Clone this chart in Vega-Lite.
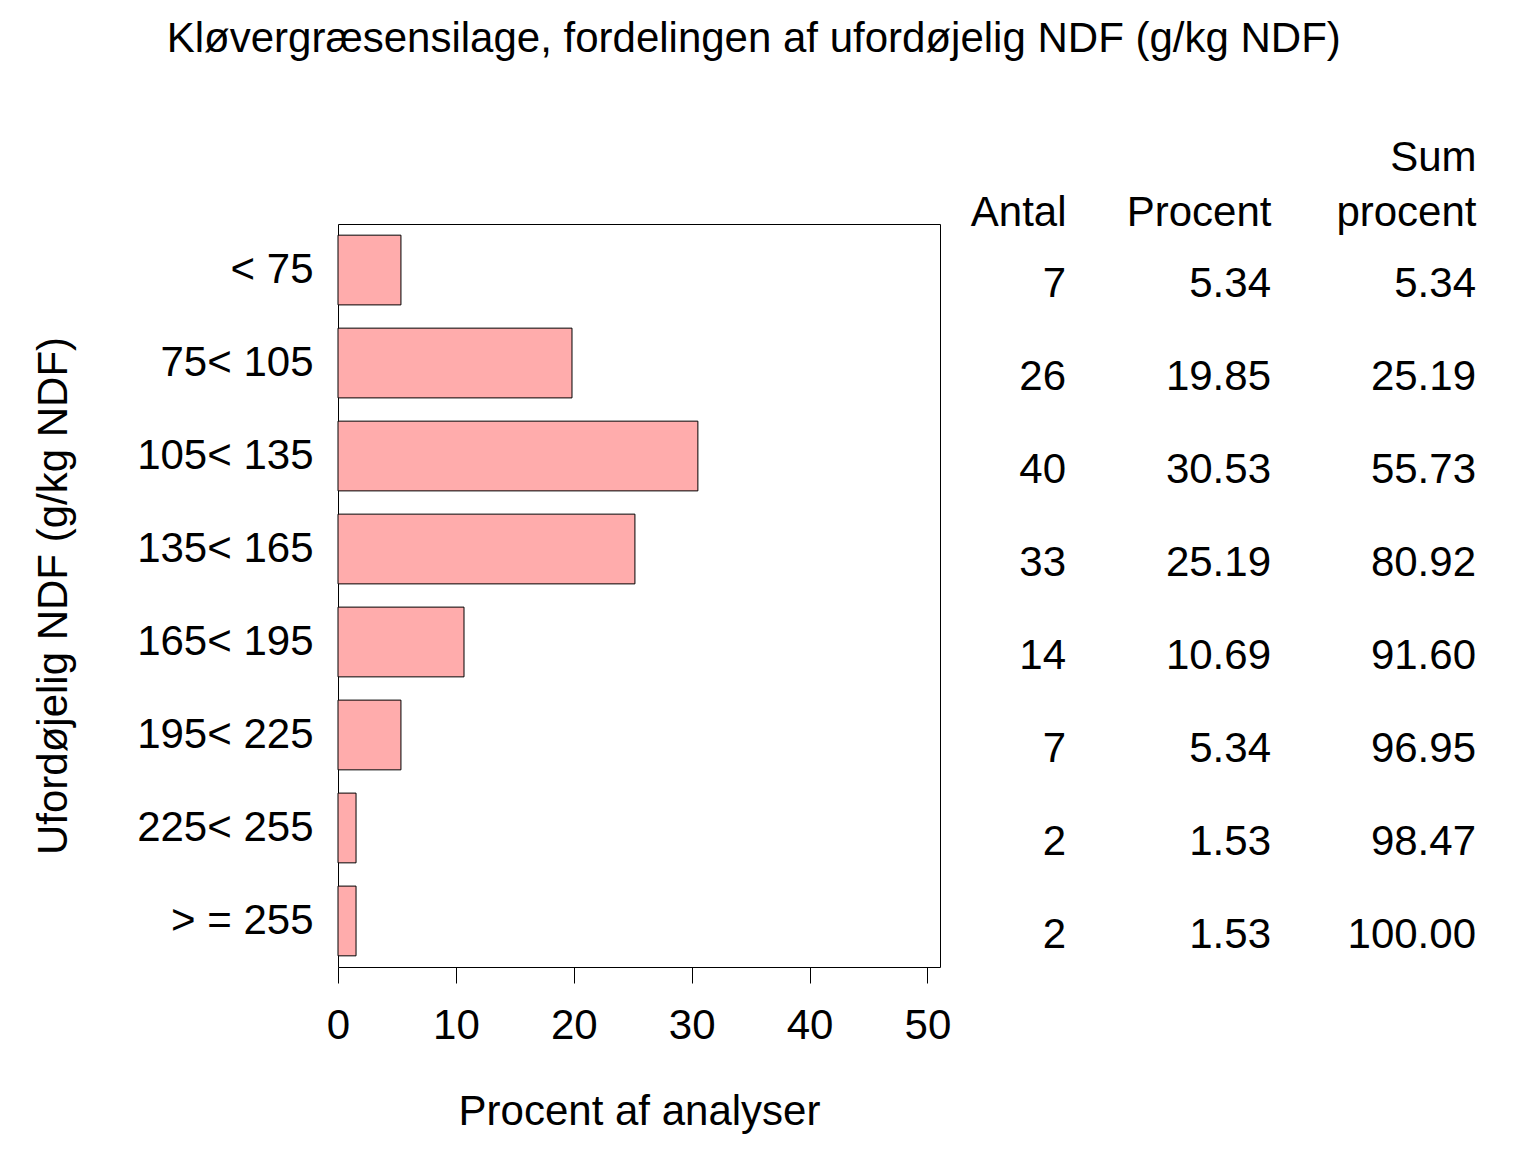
{
  "$schema": "https://vega.github.io/schema/vega-lite/v6.json",
  "padding": {"left": 31, "top": 18, "right": 5, "bottom": 5},
  "background": "white",
  "title": {
    "text": "Kløvergræsensilage, fordelingen af ufordøjelig NDF (g/kg NDF)",
    "frame": "bounds",
    "anchor": "middle",
    "offset": 75
  },
  "config": {
    "font": "Liberation Sans",
    "title": {"fontSize": 42, "fontWeight": "normal", "color": "black"},
    "axis": {
      "labelFontSize": 42,
      "titleFontSize": 42,
      "titleFontWeight": "normal",
      "labelColor": "black",
      "titleColor": "black",
      "tickColor": "black",
      "domain": false,
      "grid": false
    },
    "view": {"stroke": "black", "strokeWidth": 1}
  },
  "data": {
    "values": [
      {"cat": "< 75", "pct": 5.34, "antal": "7", "procent": "5.34", "sumprocent": "5.34"},
      {"cat": "75< 105", "pct": 19.85, "antal": "26", "procent": "19.85", "sumprocent": "25.19"},
      {"cat": "105< 135", "pct": 30.53, "antal": "40", "procent": "30.53", "sumprocent": "55.73"},
      {"cat": "135< 165", "pct": 25.19, "antal": "33", "procent": "25.19", "sumprocent": "80.92"},
      {"cat": "165< 195", "pct": 10.69, "antal": "14", "procent": "10.69", "sumprocent": "91.60"},
      {"cat": "195< 225", "pct": 5.34, "antal": "7", "procent": "5.34", "sumprocent": "96.95"},
      {"cat": "225< 255", "pct": 1.53, "antal": "2", "procent": "1.53", "sumprocent": "98.47"},
      {"cat": "> = 255", "pct": 1.53, "antal": "2", "procent": "1.53", "sumprocent": "100.00"}
    ]
  },
  "bounds": "flush",
  "spacing": 126,
  "resolve": {"scale": {"y": "shared"}},
  "hconcat": [
    {
      "width": 602,
      "height": 743,
      "mark": {"type": "bar", "fill": "#ffacac", "stroke": "black", "strokeWidth": 1},
      "encoding": {
        "y": {
          "field": "cat",
          "type": "nominal",
          "sort": ["< 75", "75< 105", "105< 135", "135< 165", "165< 195", "195< 225", "225< 255", "> = 255"],
          "scale": {"paddingInner": 0.25, "paddingOuter": 0.12},
          "title": "Ufordøjelig NDF (g/kg NDF)",
          "axis": {"ticks": false, "labelPadding": 25, "titlePadding": 63}
        },
        "x": {
          "field": "pct",
          "type": "quantitative",
          "scale": {"domain": [0, 51.07], "nice": false, "zero": true},
          "title": "Procent af analyser",
          "axis": {"values": [0, 10, 20, 30, 40, 50], "tickSize": 16, "labelPadding": 22, "titlePadding": 45, "labelFlush": false}
        }
      }
    },
    {
      "width": 410,
      "height": 743,
      "view": {"stroke": null},
      "transform": [{"fold": ["antal", "procent", "sumprocent"], "as": ["col", "val"]}],
      "mark": {"type": "text", "align": "right", "baseline": "middle", "fontSize": 42, "dy": 14, "color": "black"},
      "encoding": {
        "y": {
          "field": "cat",
          "type": "nominal",
          "sort": ["< 75", "75< 105", "105< 135", "135< 165", "165< 195", "195< 225", "225< 255", "> = 255"],
          "axis": null
        },
        "x": {
          "field": "col",
          "type": "nominal",
          "sort": ["antal", "procent", "sumprocent"],
          "scale": {"type": "point", "padding": 0},
          "title": null,
          "axis": {
            "orient": "top",
            "ticks": false,
            "tickSize": 0,
            "labelAngle": 0,
            "labelAlign": "right",
            "labelBaseline": "bottom",
            "labelPadding": 45,
            "labelLineHeight": 55,
            "labelExpr": "datum.value == 'antal' ? ['', 'Antal'] : datum.value == 'procent' ? ['', 'Procent'] : ['Sum', 'procent']"
          }
        },
        "text": {"field": "val"}
      }
    }
  ]
}
